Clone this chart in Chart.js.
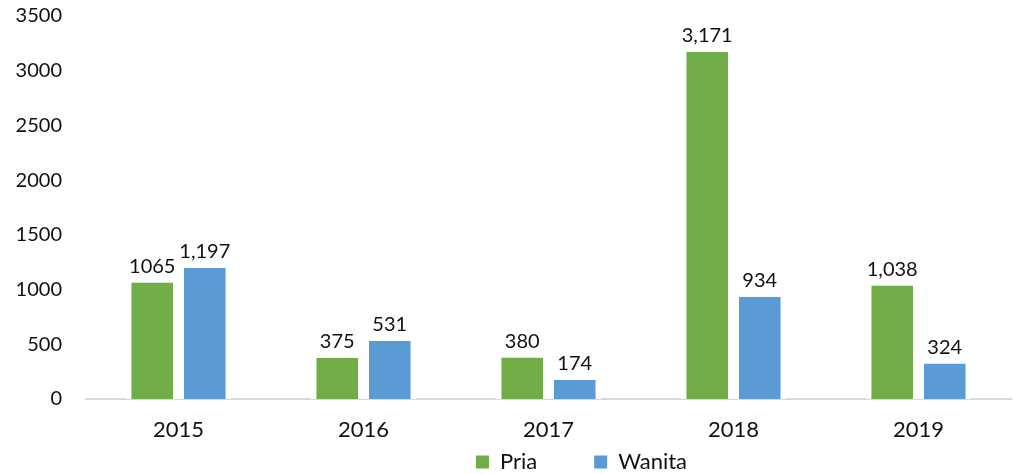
<!DOCTYPE html>
<html>
<head>
<meta charset="utf-8">
<script src="https://cdn.jsdelivr.net/npm/chart.js@4"></script>
<style>
  html, body { margin: 0; padding: 0; background: #fff; }
  #wrap { width: 1013px; height: 474px; position: relative; }
</style>
</head>
<body>
<div id="wrap"><canvas id="chart"></canvas></div>
<script>
/* ---------- Data ---------- */
const YEARS = ['2015', '2016', '2017', '2018', '2019'];
const PRIA = [1065, 375, 380, 3171, 1038];
const WANITA = [1197, 531, 174, 934, 324];
// value labels as printed above each bar
const PRIA_LABELS = ['1065', '375', '380', '3,171', '1,038'];
const WANITA_LABELS = ['1,197', '531', '174', '934', '324'];
const Y_MAX = 3500;
const Y_STEP = 500;

const GREEN = '#70AD47';
const BLUE = '#5B9BD5';
const FONT = 'Lato, "Open Sans", sans-serif';
const TEXT = '#111';

// Draws the value labels above each bar.
const barLabels = {
  id: 'barLabels',
  afterDatasetsDraw(chart) {
    const ctx = chart.ctx;
    ctx.save();
    ctx.font = '20px ' + FONT;
    ctx.fillStyle = TEXT;
    ctx.textAlign = 'center';
    ctx.textBaseline = 'bottom';
    chart.data.datasets.forEach((ds, i) => {
      chart.getDatasetMeta(i).data.forEach((bar, j) => {
        ctx.fillText(ds.valueLabels[j], bar.x, bar.y - 6);
      });
    });
    ctx.restore();
  },
};

// The legend in the original sits right of centre.
const legendShift = {
  id: 'legendShift',
  afterLayout(chart) {
    chart.legend.left += 76;
    chart.legend.right += 76;
  },
};

// blank legend entry, used to widen the gap between Pria and Wanita
const SPACER = { text: '', fillStyle: 'rgba(0,0,0,0)', strokeStyle: 'rgba(0,0,0,0)', lineWidth: 0 };

new Chart(document.getElementById('chart'), {
  type: 'bar',
  data: {
    labels: YEARS,
    datasets: [
      {
        label: 'Pria',
        data: PRIA,
        valueLabels: PRIA_LABELS,
        backgroundColor: GREEN,
        borderColor: '#fff',
        borderWidth: { left: 5.5, right: 5.5, top: 0, bottom: 0 },
        borderSkipped: false,
      },
      {
        label: 'Wanita',
        data: WANITA,
        valueLabels: WANITA_LABELS,
        backgroundColor: BLUE,
        borderColor: '#fff',
        borderWidth: { left: 5.5, right: 5.5, top: 0, bottom: 0 },
        borderSkipped: false,
      },
    ],
  },
  options: {
    responsive: true,
    maintainAspectRatio: false,
    animation: false,
    layout: { padding: { top: 0, right: 2, left: 0, bottom: -9 } },
    datasets: { bar: { categoryPercentage: 0.568, barPercentage: 1 } },
    plugins: {
      tooltip: { enabled: false },
      legend: {
        position: 'bottom',
        labels: {
          font: { family: FONT, size: 22 },
          color: TEXT,
          boxWidth: 13,
          boxHeight: 13,
          padding: 3,
          generateLabels(chart) {
            const items = chart.data.datasets.map((ds, i) => ({
              text: ds.label,
              fillStyle: ds.backgroundColor,
              strokeStyle: ds.backgroundColor,
              lineWidth: 0,
              datasetIndex: i,
              fontColor: TEXT,
            }));
            items.splice(1, 0, { ...SPACER }, { ...SPACER });
            return items;
          },
        },
      },
    },
    scales: {
      x: {
        grid: { display: false, drawTicks: false },
        border: { display: true, color: '#d9d9d9', width: 2 },
        ticks: { font: { family: FONT, size: 22 }, color: TEXT, padding: 18 },
        afterFit(scale) { scale.height = 49; },
      },
      y: {
        min: 0,
        max: Y_MAX,
        grid: { display: false, drawTicks: false },
        border: { display: false },
        ticks: {
          stepSize: Y_STEP,
          font: { family: FONT, size: 20 },
          color: TEXT,
          padding: 24,
          callback: (v) => String(v),
        },
        afterFit(scale) {
          scale.width = 86;
          scale.paddingTop = 16;
          scale.paddingBottom = 0;
        },
      },
    },
  },
  plugins: [barLabels, legendShift],
});
</script>
</body>
</html>
